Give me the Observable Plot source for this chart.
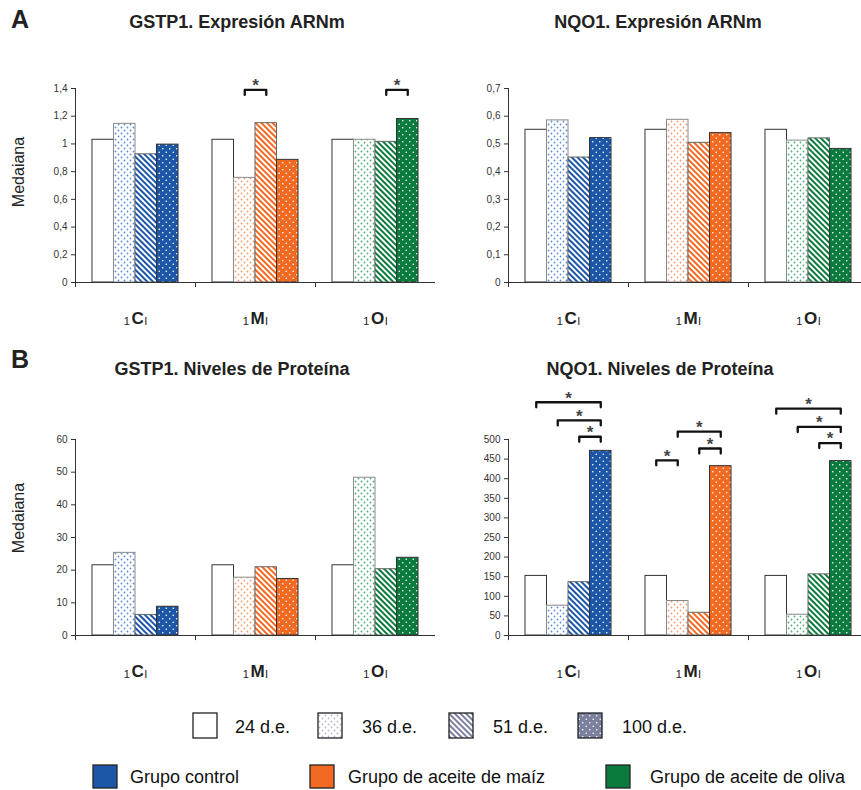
<!DOCTYPE html>
<html><head><meta charset="utf-8">
<script src="https://cdn.jsdelivr.net/npm/d3@7"></script>
<script src="https://cdn.jsdelivr.net/npm/@observablehq/plot@0.6"></script>
<style>
html,body{margin:0;padding:0;background:#fff;}
#page{position:relative;width:861px;height:790px;overflow:hidden;background:#fff;font-family:"Liberation Sans",Arial,sans-serif;}
.panel{position:absolute;}
.panel svg{overflow:visible;max-width:none !important;display:block;}
</style></head><body><div id="page"></div><script>
// ---------- DATA ----------
const groups = ["C", "M", "O"];
const seriesNames = ["24 d.e.", "36 d.e.", "51 d.e.", "100 d.e."];
const groupNames = ["Grupo control", "Grupo de aceite de maíz", "Grupo de aceite de oliva"];
const sectionLabels = ["A", "B"];
const panelTitles = ["GSTP1. Expresión ARNm", "NQO1. Expresión ARNm", "GSTP1. Niveles de Proteína", "NQO1. Niveles de Proteína"];
const yLabel = "Medaiana";

// values per group (C, M, O), each: [24, 36, 51, 100 d.e.]
const gstp1Arnm = [[1.03, 1.145, 0.925, 0.995], [1.03, 0.755, 1.15, 0.885], [1.03, 1.03, 1.015, 1.18]];
const nqo1Arnm = [[0.551, 0.585, 0.451, 0.521], [0.551, 0.587, 0.504, 0.539], [0.551, 0.512, 0.52, 0.482]];
const gstp1Prot = [[21.5, 25.3, 6.3, 8.8], [21.5, 17.7, 20.9, 17.3], [21.5, 48.3, 20.3, 23.8]];
const nqo1Prot = [[152, 76, 136, 471], [152, 88, 58, 432], [152, 53, 156, 445]];

const ticksGstp1Arnm = [0, 0.2, 0.4, 0.6, 0.8, 1, 1.2, 1.4];
const ticksNqo1Arnm = [0, 0.1, 0.2, 0.3, 0.4, 0.5, 0.6, 0.7];
const ticksGstp1Prot = [0, 10, 20, 30, 40, 50, 60];
const ticksNqo1Prot = [0, 50, 100, 150, 200, 250, 300, 350, 400, 450, 500];

// significance brackets: [group, fromSeriesIndex, toSeriesIndex, height]
const sigGstp1Arnm = [["M", 1, 2, 1.39], ["O", 2, 3, 1.39]];
const sigNqo1Arnm = [];
const sigGstp1Prot = [];
const sigNqo1Prot = [["C", 0, 3, 595], ["C", 1, 3, 549], ["C", 2, 3, 507],
  ["M", 0, 1, 447], ["M", 1, 3, 520], ["M", 2, 3, 477],
  ["O", 0, 3, 579], ["O", 1, 3, 532], ["O", 2, 3, 491]];

// ---------- STYLE ----------
const strong = {C: "#1b56a7", M: "#f26a22", O: "#0b7b3d", L: "#7c809f"};
const light = {C: "#5a8ad3", M: "#f6996a", O: "#4faa75", L: "#b3b6cd"};
const font = '"Liberation Sans", Arial, sans-serif';

const page = d3.select("#page");

// pattern definitions
const defsSvg = page.append("svg").attr("width", 0).attr("height", 0).style("position", "absolute");
const defs = defsSvg.append("defs");
for (const k of Object.keys(strong)) {
  const p36 = defs.append("pattern").attr("id", `p36-${k}`).attr("patternUnits", "userSpaceOnUse").attr("width", 6).attr("height", 6);
  p36.append("rect").attr("width", 6).attr("height", 6).attr("fill", "#fff");
  p36.append("circle").attr("cx", 1.5).attr("cy", 1.5).attr("r", 0.9).attr("fill", light[k]);
  p36.append("circle").attr("cx", 4.5).attr("cy", 4.5).attr("r", 0.9).attr("fill", light[k]);
  const p51 = defs.append("pattern").attr("id", `p51-${k}`).attr("patternUnits", "userSpaceOnUse").attr("width", 4).attr("height", 4).attr("patternTransform", "rotate(-45)");
  p51.append("rect").attr("width", 4).attr("height", 4).attr("fill", "#fff");
  p51.append("rect").attr("width", 2).attr("height", 4).attr("fill", strong[k]);
  const p100 = defs.append("pattern").attr("id", `p100-${k}`).attr("patternUnits", "userSpaceOnUse").attr("width", 7).attr("height", 7);
  p100.append("rect").attr("width", 7).attr("height", 7).attr("fill", strong[k]);
  p100.append("circle").attr("cx", 1.75).attr("cy", 1.75).attr("r", 0.8).attr("fill", "#fff");
  p100.append("circle").attr("cx", 5.25).attr("cy", 5.25).attr("r", 0.8).attr("fill", "#fff");
}
const fillFor = (si, k) => si === 0 ? "#fff" : `url(#p${["", "36", "51", "100"][si]}-${k})`;
const strokeFor = (si) => ["#333", "#8a8a8a", "#666", "#333"][si];

// overlay for titles, labels, legend
const ov = page.append("svg").attr("width", 861).attr("height", 790)
  .style("position", "absolute").style("left", 0).style("top", 0)
  .attr("font-family", font);

const titlePos = [[237, 28], [658, 28], [232, 375], [660, 375]];
panelTitles.forEach((t, i) => ov.append("text").attr("x", titlePos[i][0]).attr("y", titlePos[i][1])
  .attr("text-anchor", "middle").attr("font-size", 18).attr("font-weight", "bold").attr("fill", "#222").text(t));
const secPos = [[11, 28], [11, 368]];
sectionLabels.forEach((t, i) => ov.append("text").attr("x", secPos[i][0]).attr("y", secPos[i][1])
  .attr("font-size", 25).attr("font-weight", "bold").attr("fill", "#222").text(t));
[172, 518].forEach(cy => ov.append("text").attr("transform", `translate(24,${cy}) rotate(-90)`)
  .attr("text-anchor", "middle").attr("font-size", 16).attr("fill", "#222").text(yLabel));

// legend row 1 (series)
const leg1 = [[193, 235], [318, 362], [449, 493], [578, 622]];
seriesNames.forEach((s, si) => {
  ov.append("rect").attr("x", leg1[si][0]).attr("y", 713).attr("width", 24).attr("height", 25)
    .attr("fill", fillFor(si, "L")).attr("stroke", "#222").attr("stroke-width", 1.3);
  ov.append("text").attr("x", leg1[si][1]).attr("y", 733).attr("font-size", 18).attr("fill", "#111").text(s);
});
// legend row 2 (groups)
const leg2 = [[93, 130], [310, 348], [606, 650]];
groupNames.forEach((g, gi) => {
  ov.append("rect").attr("x", leg2[gi][0]).attr("y", 765).attr("width", 24).attr("height", 23)
    .attr("fill", strong[groups[gi]]).attr("stroke", "#222").attr("stroke-width", 1.3);
  ov.append("text").attr("x", leg2[gi][1]).attr("y", 783).attr("font-size", 18).attr("fill", "#111").text(g);
});

// ---------- PANELS ----------
const fmtComma = d => String(d).replace(".", ",");
const pad = 0.79;
const xLo = -0.5 - pad, xHi = 3.5 + pad;

function drawPanel({values, yTicks, sig, left, top, width, height, marginLeft, marginTop, marginBottom}) {
  const yMax = yTicks[yTicks.length - 1];
  const rows = values.flatMap((vals, gi) => vals.map((v, si) => ({group: groups[gi], si, value: v})));
  const drop = yMax * 0.026;
  const bracketPts = sig.flatMap((b, id) =>
    [[b[1], b[3] - drop], [b[1], b[3]], [b[2], b[3]], [b[2], b[3] - drop]]
      .map(([x, y]) => ({group: b[0], id, x, y})));
  const chart = Plot.plot({
    width, height, marginLeft, marginRight: 0, marginTop, marginBottom,
    style: {fontFamily: font, fontSize: "10px", color: "#333", background: "transparent", overflow: "visible"},
    fx: {domain: groups, padding: 0, axis: "bottom", label: null, tickSize: 0, tickPadding: 16.5},
    x: {domain: [xLo, xHi], axis: null},
    y: {domain: [0, yMax], ticks: yTicks, tickFormat: fmtComma, tickSize: 4, tickPadding: 4, line: true, label: null},
    color: {type: "identity"},
    marks: [
      Plot.rect(rows, {fx: "group", x1: d => d.si - 0.5, x2: d => d.si + 0.5, y1: 0, y2: "value",
        fill: d => fillFor(d.si, d.group), stroke: d => strokeFor(d.si), strokeWidth: 1}),
      Plot.ruleY([0], {stroke: "#333", strokeWidth: 1.2}),
      Plot.ruleX([xLo], {y1: 0, y2: -drop, stroke: "#333"}),
      Plot.line(bracketPts, {fx: "group", x: "x", y: "y", z: "id", stroke: "#111", strokeWidth: 2.3}),
      Plot.text(sig, {fx: d => d[0], x: d => (d[1] + d[2]) / 2, y: d => d[3], text: () => "*",
        fontSize: 17, fontWeight: "bold", fill: "#444", dy: -4})
    ]
  });
  // group labels: subscript decoration around the letter
  d3.select(chart).selectAll("text").each(function () {
    const t = this;
    const txt = t.textContent;
    if (!groups.includes(txt)) return;
    const p = t.closest("g");
    if (p && p.getAttribute("aria-label") && !p.getAttribute("aria-label").startsWith("fx")) return;
    t.textContent = "";
    t.removeAttribute("dy");
    const s = d3.select(t).attr("font-size", 17).attr("fill", "#222").attr("font-weight", "bold");
    s.append("tspan").attr("dy", 14).attr("font-size", 11).attr("font-weight", "normal").text("1");
    s.append("tspan").attr("dy", -1.5).attr("dx", 1.5).text(txt);
    s.append("tspan").attr("dy", 1.5).attr("dx", 0.5).attr("font-size", 11).attr("font-weight", "normal").text("I");
  });
  const div = page.append("div").attr("class", "panel")
    .style("left", left + "px").style("top", top + "px")
    .style("width", width + "px").style("height", height + "px");
  div.node().appendChild(chart);
}

drawPanel({values: gstp1Arnm, yTicks: ticksGstp1Arnm, sig: sigGstp1Arnm, left: 0, top: 0, width: 435, height: 322, marginLeft: 75, marginTop: 88, marginBottom: 40});
drawPanel({values: nqo1Arnm, yTicks: ticksNqo1Arnm, sig: sigNqo1Arnm, left: 430, top: 0, width: 438, height: 322, marginLeft: 78, marginTop: 88, marginBottom: 40});
drawPanel({values: gstp1Prot, yTicks: ticksGstp1Prot, sig: sigGstp1Prot, left: 0, top: 330, width: 435, height: 345, marginLeft: 75, marginTop: 109, marginBottom: 40});
drawPanel({values: nqo1Prot, yTicks: ticksNqo1Prot, sig: sigNqo1Prot, left: 430, top: 330, width: 438, height: 345, marginLeft: 78, marginTop: 109, marginBottom: 40});
</script></body></html>
